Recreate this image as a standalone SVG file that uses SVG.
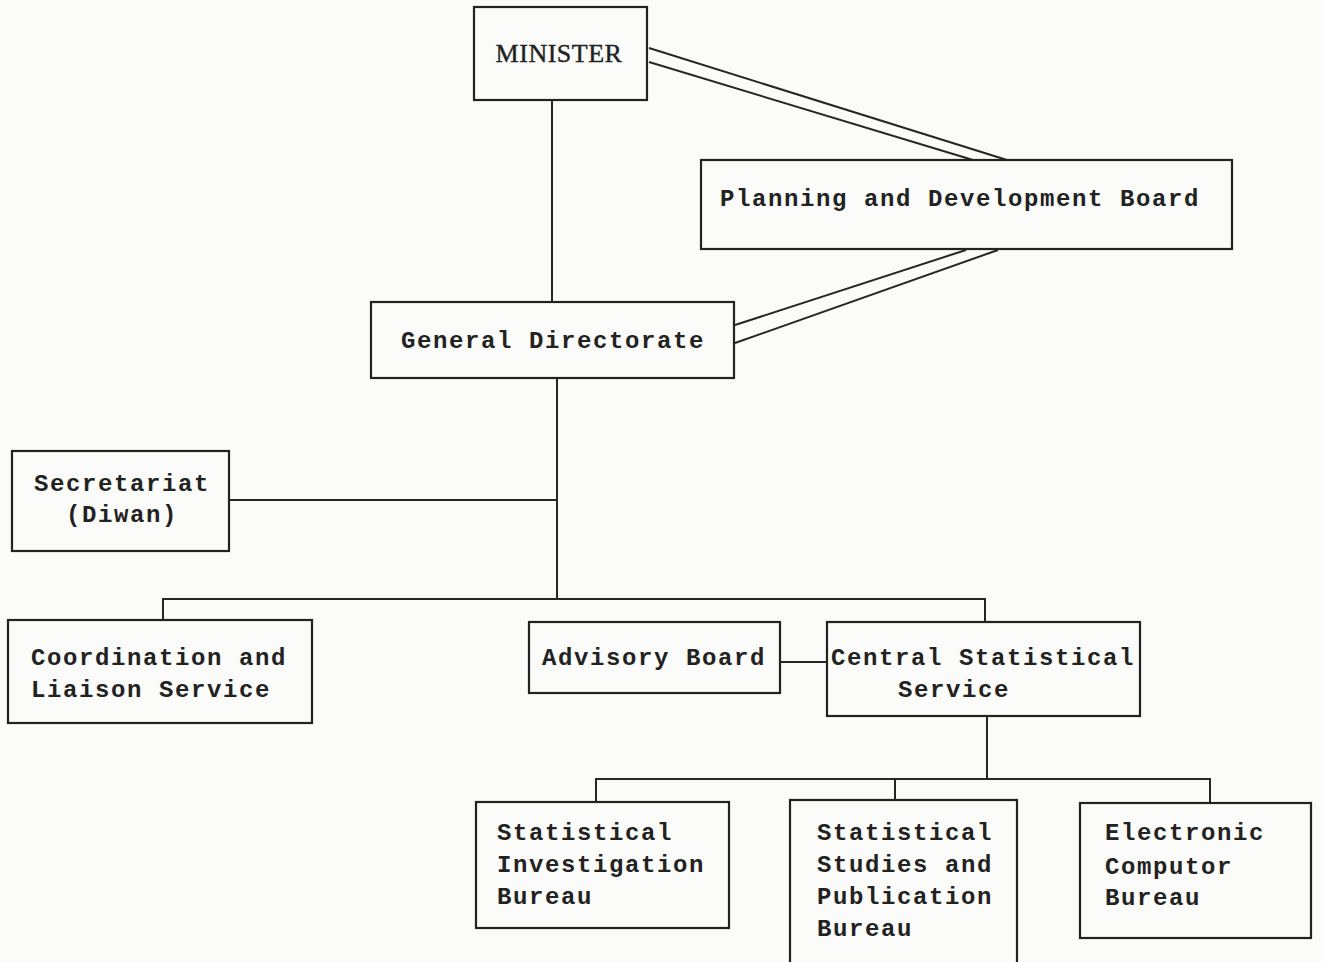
<svg xmlns="http://www.w3.org/2000/svg" width="1324" height="962" viewBox="0 0 1324 962">
<style>
.bg{fill:#fbfbf9}
.box{fill:none;stroke:#222;stroke-width:2.2}
.ln{fill:none;stroke:#262626;stroke-width:2}
.t{font-family:"Liberation Mono","DejaVu Sans Mono",monospace;font-weight:bold;font-size:24px;letter-spacing:1.6px;fill:#222}
.m{font-family:"Liberation Serif","DejaVu Serif",serif;font-weight:normal;font-size:26px;letter-spacing:0.5px;fill:#222;stroke:#222;stroke-width:0.4}
.c{text-anchor:middle}
</style>
<rect class="bg" x="0" y="0" width="1324" height="962"/>
<g id="connectors">
<line class="ln" x1="649" y1="48" x2="1007" y2="160"/>
<line class="ln" x1="649" y1="62" x2="973" y2="160"/>
<line class="ln" x1="735" y1="325" x2="966" y2="250"/>
<line class="ln" x1="735" y1="343" x2="998" y2="250"/>
<line class="ln" x1="552" y1="100" x2="552" y2="302"/>
<line class="ln" x1="557" y1="378" x2="557" y2="600"/>
<line class="ln" x1="229" y1="500" x2="557" y2="500"/>
<polyline class="ln" points="163,620 163,599 985,599 985,622"/>
<line class="ln" x1="780" y1="662" x2="827" y2="662"/>
<line class="ln" x1="987" y1="716" x2="987" y2="779"/>
<polyline class="ln" points="596,802 596,779 1210,779 1210,803"/>
<line class="ln" x1="895" y1="779" x2="895" y2="800"/>
</g>
<g id="minister">
<rect class="box" x="474" y="7" width="173" height="93"/>
<text class="m c" x="559" y="62">MINISTER</text>
</g>
<g id="planning">
<rect class="box" x="701" y="160" width="531" height="89"/>
<text class="t c" x="960" y="206">Planning and Development Board</text>
</g>
<g id="general-directorate">
<rect class="box" x="371" y="302" width="363" height="76"/>
<text class="t c" x="553" y="348">General Directorate</text>
</g>
<g id="secretariat">
<rect class="box" x="12" y="451" width="217" height="100"/>
<text class="t c" x="122" y="491">Secretariat</text>
<text class="t c" x="122" y="522">(Diwan)</text>
</g>
<g id="coordination">
<rect class="box" x="8" y="620" width="304" height="103"/>
<text class="t" x="31" y="665">Coordination and</text>
<text class="t" x="31" y="697">Liaison Service</text>
</g>
<g id="advisory-board">
<rect class="box" x="529" y="622" width="251" height="71"/>
<text class="t" x="542" y="665">Advisory Board</text>
</g>
<g id="central-statistical-service">
<rect class="box" x="827" y="622" width="313" height="94"/>
<text class="t" x="831" y="665">Central Statistical</text>
<text class="t c" x="954" y="697">Service</text>
</g>
<g id="statistical-investigation-bureau">
<rect class="box" x="476" y="802" width="253" height="126"/>
<text class="t" x="497" y="840">Statistical</text>
<text class="t" x="497" y="872">Investigation</text>
<text class="t" x="497" y="904">Bureau</text>
</g>
<g id="statistical-studies-bureau">
<rect class="box" x="790" y="800" width="227" height="170"/>
<text class="t" x="817" y="840">Statistical</text>
<text class="t" x="817" y="872">Studies and</text>
<text class="t" x="817" y="904">Publication</text>
<text class="t" x="817" y="936">Bureau</text>
</g>
<g id="electronic-computer-bureau">
<rect class="box" x="1080" y="803" width="231" height="135"/>
<text class="t" x="1105" y="840">Electronic</text>
<text class="t" x="1105" y="874">Computor</text>
<text class="t" x="1105" y="905">Bureau</text>
</g>
</svg>
